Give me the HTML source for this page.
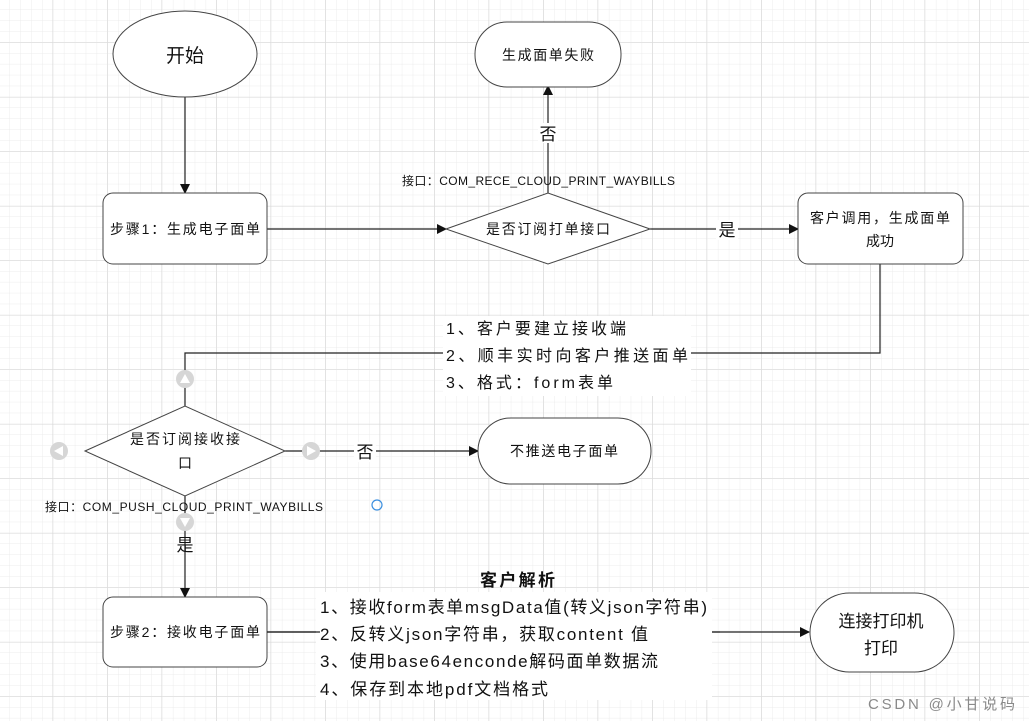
<!DOCTYPE html>
<html><head><meta charset="utf-8"><style>
body{margin:0;width:1029px;height:721px;overflow:hidden;background:#fff}
svg{display:block}
text{font-family:"Liberation Sans","Noto Sans CJK SC",sans-serif;fill:#111}
</style></head><body>
<svg width="1029" height="721" viewBox="0 0 1029 721" xmlns="http://www.w3.org/2000/svg">
<defs>
<pattern id="minor" x="-1" y="-1" width="10.9" height="10.9" patternUnits="userSpaceOnUse">
<path d="M10.9 0V10.9M0 10.9H10.9" stroke="#ececec" stroke-width="1" fill="none"/></pattern>
<pattern id="major" x="-1.5" y="-11.5" width="54.5" height="54.5" patternUnits="userSpaceOnUse">
<path d="M54.5 0V54.5M0 54.5H54.5" stroke="#d9d9d9" stroke-width="1" fill="none"/></pattern>
<marker id="a" markerWidth="10" markerHeight="10" refX="9" refY="5" orient="auto" markerUnits="userSpaceOnUse"><path d="M0,0 L10,5 L0,10z" fill="#111"/></marker>
</defs>
<rect width="1029" height="721" fill="url(#minor)"/>
<rect width="1029" height="721" fill="url(#major)"/>
<g stroke="#222" stroke-width="1.2" fill="none">
<line x1="185" y1="97" x2="185" y2="193" marker-end="url(#a)"/>
<line x1="267" y1="229" x2="446" y2="229" marker-end="url(#a)"/>
<line x1="548" y1="193" x2="548" y2="86" marker-end="url(#a)"/>
<line x1="650" y1="229" x2="798" y2="229" marker-end="url(#a)"/>
<polyline points="880,264 880,353 185,353 185,406"/>
<line x1="285" y1="451" x2="478" y2="451" marker-end="url(#a)"/>
<line x1="185" y1="496" x2="185" y2="597" marker-end="url(#a)"/>
<line x1="267" y1="632" x2="809" y2="632" marker-end="url(#a)"/>
</g>
<g stroke="#444" stroke-width="1" fill="#fff">
<ellipse cx="185" cy="54" rx="72" ry="43"/>
<rect x="103" y="193" width="164" height="71" rx="10"/>
<polygon points="446,229 548,193 650,229 548,264"/>
<rect x="475" y="22" width="146" height="65" rx="32"/>
<rect x="798" y="193" width="165" height="71" rx="10"/>
<polygon points="85,451 185,406 285,451 185,496"/>
<rect x="478" y="418" width="173" height="66" rx="33"/>
<rect x="103" y="597" width="164" height="70" rx="10"/>
<rect x="810" y="593" width="144" height="79" rx="39.5"/>
</g>
<g fill="#d6d6d6">
<circle cx="185" cy="379" r="9"/><circle cx="59" cy="451" r="9"/><circle cx="311" cy="451" r="9"/><circle cx="185" cy="522" r="9"/>
</g>
<g fill="#fff">
<path d="M185,374 L190,383 L180,383z"/><path d="M54,451 L63,446 L63,456z"/><path d="M316,451 L307,446 L307,456z"/><path d="M185,527 L180,518 L190,518z"/>
</g>
<circle cx="377" cy="505" r="5" fill="none" stroke="#3b8fe0" stroke-width="1.2"/>
<g text-anchor="middle">
<text x="185" y="62" font-size="19">开始</text>
<text x="185" y="234" font-size="14" textLength="150">步骤1：生成电子面单</text>
<text x="548" y="234" font-size="14" textLength="124">是否订阅打单接口</text>
<text x="548" y="60" font-size="14" textLength="92">生成面单失败</text>
<text x="880" y="223" font-size="14" textLength="140">客户调用，生成面单</text>
<text x="880" y="246" font-size="14">成功</text>
<text x="185" y="444" font-size="14" textLength="110">是否订阅接收接</text>
<text x="185" y="468" font-size="14">口</text>
<text x="564" y="456" font-size="14" textLength="108">不推送电子面单</text>
<text x="185" y="637" font-size="14" textLength="150">步骤2：接收电子面单</text>
<text x="881" y="627" font-size="17">连接打印机</text>
<text x="881" y="654" font-size="17">打印</text>
</g>
<rect x="538" y="123" width="20" height="20" fill="#fff"/>
<text x="548" y="140" font-size="17" text-anchor="middle">否</text>
<rect x="716" y="220" width="22" height="20" fill="#fff"/>
<text x="727" y="236" font-size="17" text-anchor="middle">是</text>
<rect x="354" y="442" width="22" height="20" fill="#fff"/>
<text x="365" y="458" font-size="17" text-anchor="middle">否</text>
<text x="185" y="551" font-size="17" text-anchor="middle">是</text>
<text x="402" y="185" font-size="12" textLength="273">接口：COM_RECE_CLOUD_PRINT_WAYBILLS</text>
<text x="45" y="511" font-size="12" textLength="278">接口：COM_PUSH_CLOUD_PRINT_WAYBILLS</text>
<g fill="#fff"><rect x="443" y="316" width="248" height="80"/></g>
<text x="446" y="334" font-size="16" textLength="180">1、客户要建立接收端</text>
<text x="446" y="361" font-size="16" textLength="242">2、顺丰实时向客户推送面单</text>
<text x="446" y="388" font-size="16" textLength="167">3、格式：form表单</text>
<text x="480" y="586" font-size="17" font-weight="bold" textLength="75">客户解析</text>
<g fill="#fff"><rect x="316" y="592" width="396" height="108"/></g>
<line x1="267" y1="632" x2="320" y2="632" stroke="#222" stroke-width="1.2"/>
<line x1="712" y1="632" x2="720" y2="632" stroke="#222" stroke-width="1.2"/>
<g font-size="17">
<text x="320" y="613" textLength="387">1、接收form表单msgData值(转义json字符串)</text>
<text x="320" y="640" textLength="328">2、反转义json字符串，获取content 值</text>
<text x="320" y="667" textLength="338">3、使用base64enconde解码面单数据流</text>
<text x="320" y="695" textLength="228">4、保存到本地pdf文档格式</text>
</g>
<text x="868" y="709" font-size="15" textLength="147" style="fill:#8a8a8a">CSDN @小甘说码</text>
</svg>
</body></html>
